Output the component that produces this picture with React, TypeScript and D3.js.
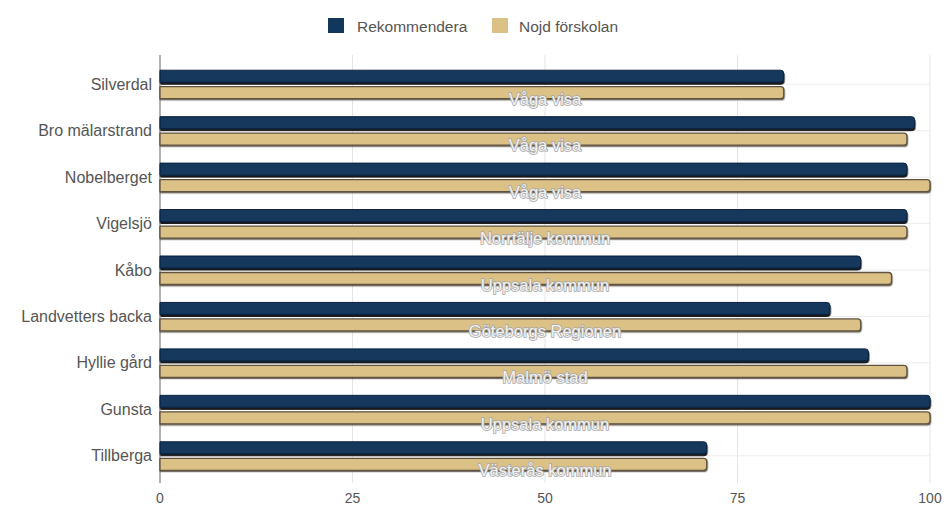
import React from "react";
import * as d3 from "d3";

const categories = [
  "Silverdal",
  "Bro mälarstrand",
  "Nobelberget",
  "Vigelsjö",
  "Kåbo",
  "Landvetters backa",
  "Hyllie gård",
  "Gunsta",
  "Tillberga",
];
const regions = [
  "Våga visa",
  "Våga visa",
  "Våga visa",
  "Norrtälje kommun",
  "Uppsala kommun",
  "Göteborgs Regionen",
  "Malmö stad",
  "Uppsala kommun",
  "Västerås kommun",
];
const rekommendera = [81, 98, 97, 97, 91, 87, 92, 100, 71];
const nojdForskolan = [81, 97, 100, 97, 95, 91, 97, 100, 71];
const xTicks = [0, 25, 50, 75, 100];
const seriesNames = ["Rekommendera", "Nojd förskolan"];

const W = 946;
const H = 508;
const M = { left: 160, right: 16, top: 61, bottom: 29 };
const NAVY = "#13375c";
const GOLD = "#dcc186";
const FONT = "Arial, 'Liberation Sans', Helvetica, sans-serif";

function barPath(x0: number, y: number, w: number, h: number, r: number) {
  const rr = Math.min(r, w, h / 2);
  return `M${x0},${y}H${x0 + w - rr}Q${x0 + w},${y} ${x0 + w},${y + rr}V${y + h - rr}Q${x0 + w},${y + h} ${x0 + w - rr},${y + h}H${x0}Z`;
}

export default function App() {
  const x = d3.scaleLinear().domain([0, 100]).range([M.left, W - M.right]);
  const y = d3
    .scaleBand<string>()
    .domain(categories)
    .range([M.top, H - M.bottom])
    .paddingInner(0)
    .paddingOuter(0);
  const bh = 12;
  const plotMid = (x(0) + x(100)) / 2;

  return (
    <svg width={W} height={H} style={{ position: "absolute", left: 0, top: 0, background: "#fff" }}>
      <defs>
        <filter id="sh" x="-5%" y="-50%" width="110%" height="200%">
          <feDropShadow dx="0.5" dy="2" stdDeviation="0.4" floodColor="#000" floodOpacity="0.9" />
        </filter>
        <filter id="sh2" x="-5%" y="-50%" width="110%" height="200%">
          <feDropShadow dx="0.5" dy="1.2" stdDeviation="0.4" floodColor="#3a3020" floodOpacity="0.7" />
        </filter>
      </defs>
      {/* legend */}
      <g fontFamily={FONT} fontSize={15.5} fill="#555">
        <rect x={328} y={18} width={16} height={15} fill={NAVY} />
        <text x={357} y={26} dominantBaseline="central">{seriesNames[0]}</text>
        <rect x={492} y={18} width={16} height={15} fill={GOLD} />
        <text x={519} y={26} dominantBaseline="central">{seriesNames[1]}</text>
      </g>
      {/* grid */}
      {xTicks.map((t) => (
        <line key={"g" + t} x1={x(t)} x2={x(t)} y1={M.top - 6} y2={H - M.bottom + 4} stroke={t === 0 ? "#999" : "#e4e4e4"} strokeWidth={t === 0 ? 1.5 : 1} />
      ))}
      {categories.map((c) => {
        const cy = (y(c) as number) + y.bandwidth() / 2;
        return <line key={"hg" + c} x1={x(0)} x2={x(100)} y1={cy} y2={cy} stroke="#ececec" />;
      })}
      {/* bars */}
      {categories.map((c, i) => {
        const cy = (y(c) as number) + y.bandwidth() / 2;
        const w1 = x(rekommendera[i]) - x(0);
        const w2 = x(nojdForskolan[i]) - x(0);
        return (
          <g key={c}>
            <path d={barPath(x(0), cy - 14, w1, bh, 3)} fill={NAVY} stroke="#0b2340" strokeWidth={1} filter="url(#sh)" />
            <path d={barPath(x(0), cy + 2.5, w2, bh, 3)} fill={GOLD} stroke="#5e5240" strokeWidth={1.3} filter="url(#sh2)" />
          </g>
        );
      })}
      {/* region labels */}
      {categories.map((c, i) => {
        const cy = (y(c) as number) + y.bandwidth() / 2;
        return (
          <text
            key={"r" + c}
            x={plotMid}
            y={cy + 14.5}
            textAnchor="middle"
            dominantBaseline="central"
            fontFamily={FONT}
            fontSize={16.5}
            fill="#f2f2f2"
            stroke="#a8a8a8"
            strokeWidth={1.6}
            paintOrder="stroke"
          >
            {regions[i]}
          </text>
        );
      })}
      {/* category labels */}
      {categories.map((c) => {
        const cy = (y(c) as number) + y.bandwidth() / 2;
        return (
          <text key={"c" + c} x={M.left - 8} y={cy} textAnchor="end" dominantBaseline="central" fontFamily={FONT} fontSize={16} fill="#555">
            {c}
          </text>
        );
      })}
      {/* x tick labels */}
      {xTicks.map((t) => (
        <text key={"t" + t} x={x(t)} y={H - 5} textAnchor="middle" fontFamily={FONT} fontSize={14} fill="#555">
          {t}
        </text>
      ))}
    </svg>
  );
}
